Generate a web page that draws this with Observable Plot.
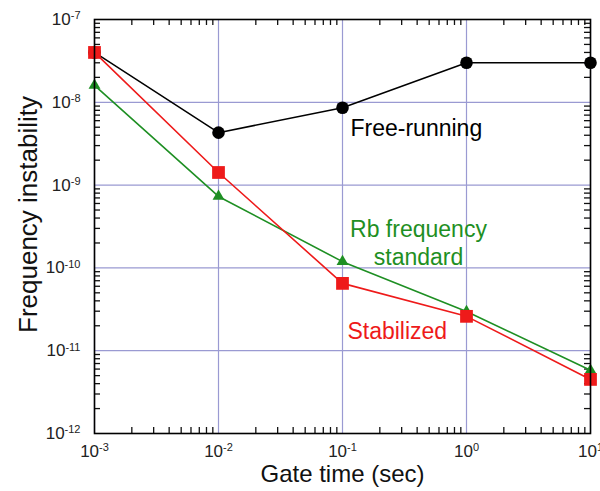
<!DOCTYPE html>
<html><head><meta charset="utf-8">
<script src="https://cdn.jsdelivr.net/npm/d3@7"></script>
<script src="https://cdn.jsdelivr.net/npm/@observablehq/plot@0.6"></script>
<style>body{margin:0;background:#fff}</style>
</head><body><div id="chart"></div>
<script>
// ---- data ----
const gateTimes   = [1e-3, 1e-2, 1e-1, 1, 10];
const freeRunning = [4.0e-8, 4.3e-9, 8.6e-9, 3.0e-8, 3.0e-8];
const stabilized  = [4.0e-8, 1.42e-9, 6.5e-11, 2.6e-11, 4.5e-12];
const rbStandard  = [1.6e-8, 7.3e-10, 1.19e-10, 2.97e-11, 5.8e-12];

const xTicks = [1e-3, 1e-2, 1e-1, 1, 10];
const xTickLabels = ["10^-3", "10^-2", "10^-1", "10^0", "10^1"];
const yTicks = [1e-12, 1e-11, 1e-10, 1e-9, 1e-8, 1e-7];
const yTickLabels = ["10^-12", "10^-11", "10^-10", "10^-9", "10^-8", "10^-7"];

const labelTexts = ["Free-running", "Rb frequency\nstandard", "Stabilized"];
const labelX = [0.116, 0.41, 0.1096];
const labelY = [4.97e-9, 2.03e-10, 1.75e-11];

const xTitle = "Gate time (sec)";
const yTitle = "Frequency instability";

// ---- styles ----
const BLACK = "#000000", RED = "#ee1a1a", GREEN = "#1e8f23", GRID = "#9a9ad2";
const labelColors = [BLACK, GREEN, RED];
const labelAnchors = ["start", "middle", "start"];

const W = 600, H = 491, ML = 94, MR = 10, MT = 19, MB = 58, TICK = 6;
const FW = W - ML - MR, FH = H - MT - MB;

const rows = (ys) => gateTimes.map((x, i) => ({x, y: ys[i]}));
const minor = (lo, hi) => {
  const out = [];
  for (let e = lo; e < hi; e++) for (let m = 2; m <= 9; m++) out.push(m * Math.pow(10, e));
  return out;
};
const minorX = minor(-3, 1), minorY = minor(-12, -7);
const labelRows = labelTexts.map((t, i) => ({t, x: labelX[i], y: labelY[i], c: labelColors[i], a: labelAnchors[i]}));

const fmt = (labels, ticks) => (d) => labels[ticks.findIndex(v => Math.abs(Math.log10(v) - Math.log10(d)) < 1e-6)];

const plot = Plot.plot({
  width: W, height: H,
  marginLeft: ML, marginRight: MR, marginTop: MT, marginBottom: MB,
  style: {fontFamily: "'Liberation Sans', Arial, sans-serif", background: "white", overflow: "visible"},
  x: {type: "log", domain: [1e-3, 10], axis: null},
  y: {type: "log", domain: [1e-12, 1e-7], axis: null},
  marks: [
    Plot.ruleX(xTicks, {stroke: GRID, strokeWidth: 1.2}),
    Plot.ruleY(yTicks, {stroke: GRID, strokeWidth: 1.2}),
    // inward minor ticks (short rules at the frame edges)
    Plot.ruleX(minorX, {stroke: "#111", strokeWidth: 1.3, insetTop: FH - TICK}),
    Plot.ruleX(minorX, {stroke: "#111", strokeWidth: 1.3, insetBottom: FH - TICK}),
    Plot.ruleY(minorY, {stroke: "#111", strokeWidth: 1.3, insetRight: FW - TICK}),
    Plot.ruleY(minorY, {stroke: "#111", strokeWidth: 1.3, insetLeft: FW - TICK}),
    // major tick labels
    Plot.axisX({anchor: "bottom", ticks: xTicks, tickSize: 0, tickPadding: 11, fontSize: 17, fill: "#222",
      tickFormat: fmt(xTickLabels, xTicks), label: null}),
    Plot.axisY({anchor: "left", ticks: yTicks, tickSize: 0, tickPadding: 14, fontSize: 17, fill: "#222",
      tickFormat: fmt(yTickLabels, yTicks), label: null}),
    // series
    Plot.line(rows(freeRunning), {x: "x", y: "y", stroke: BLACK, strokeWidth: 1.5}),
    Plot.line(rows(rbStandard), {x: "x", y: "y", stroke: GREEN, strokeWidth: 1.6}),
    Plot.line(rows(stabilized), {x: "x", y: "y", stroke: RED, strokeWidth: 1.6}),
    Plot.dot(rows(freeRunning), {x: "x", y: "y", r: 6.3, fill: BLACK, symbol: "circle"}),
    Plot.dot(rows(rbStandard), {x: "x", y: "y", r: 4.4, fill: GREEN, symbol: "triangle"}),
    Plot.dot(rows(stabilized), {x: "x", y: "y", r: 7.2, fill: RED, symbol: "square"}),
    // series labels
    Plot.text(labelRows.filter(d => d.a === "start"), {x: "x", y: "y", text: "t", fill: "c", textAnchor: "start", fontSize: 23, lineHeight: 1.2}),
    Plot.text(labelRows.filter(d => d.a === "middle"), {x: "x", y: "y", text: "t", fill: "c", textAnchor: "middle", fontSize: 23, lineHeight: 1.2}),
    // axis titles
    Plot.text([xTitle], {frameAnchor: "bottom", dy: 41, fontSize: 24, fill: "#111", textAnchor: "middle", lineAnchor: "middle"}),
    Plot.text([yTitle], {frameAnchor: "left", dx: -66, dy: -12, rotate: -90, fontSize: 26, fill: "#111", textAnchor: "middle", lineAnchor: "middle"}),
    Plot.frame({stroke: BLACK, strokeWidth: 1.6})
  ]
});

// superscript exponents in tick labels
const ns = "http://www.w3.org/2000/svg";
plot.querySelectorAll("text").forEach(t => {
  const s = t.textContent;
  if (!/^10\^/.test(s)) return;
  const [b, e] = s.split("^");
  while (t.firstChild) t.removeChild(t.firstChild);
  const t1 = document.createElementNS(ns, "tspan"); t1.textContent = b;
  const t2 = document.createElementNS(ns, "tspan"); t2.textContent = e;
  t2.setAttribute("font-size", "11"); t2.setAttribute("dy", "-0.5em");
  t.append(t1, t2);
});
document.getElementById("chart").append(plot);
</script>
</body></html>
